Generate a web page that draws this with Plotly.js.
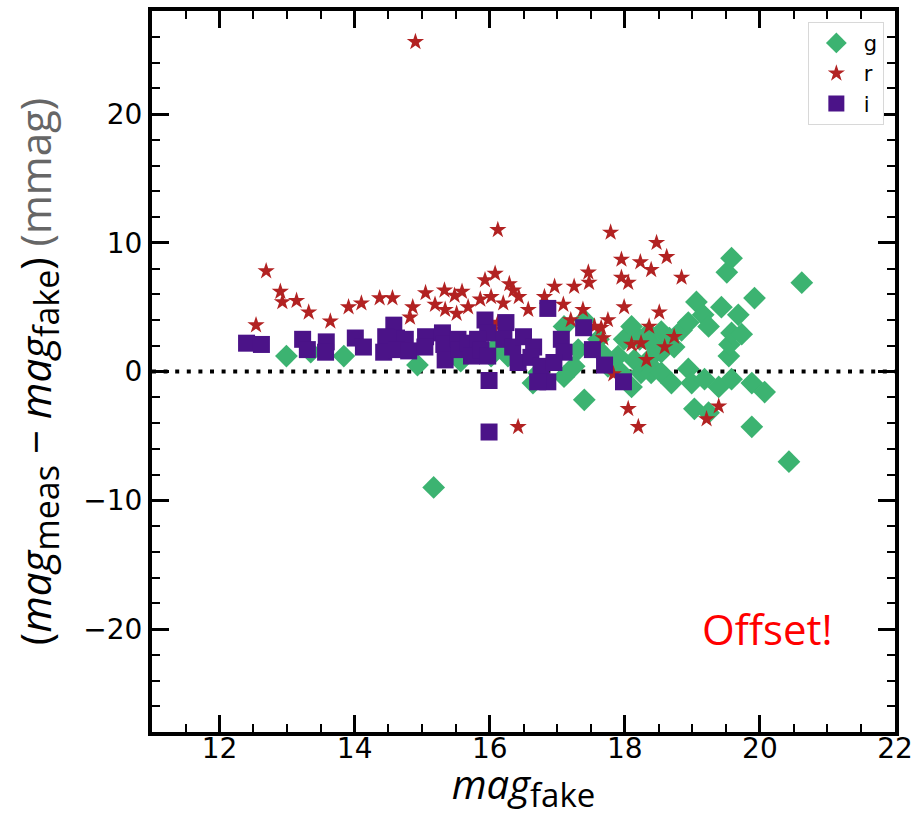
<!DOCTYPE html>
<html>
<head>
<meta charset="utf-8">
<script src="https://cdn.plot.ly/plotly-3.0.1.min.js"></script>
<style>html,body{margin:0;padding:0;background:#fff;}#chart{width:912px;height:817px;}</style>
</head>
<body>
<div id="chart"></div>
<script>
// g band
const gX = [12.99,13.35,13.84,14.93,15.17,15.57,16.02,16.09,16.27,16.64,16.72,17.10,17.40,17.25,17.10,17.40,17.31,17.61,17.65,17.75,17.90,17.95,17.99,18.10,18.22,18.14,18.10,18.24,18.35,18.35,18.39,18.39,18.39,18.54,18.54,18.54,18.66,18.73,18.69,18.84,18.94,18.94,18.99,19.03,19.06,19.16,19.18,19.24,19.24,19.39,19.43,19.51,19.54,19.55,19.58,19.58,19.58,19.68,19.73,19.88,19.88,19.92,20.07,20.43,20.62];
const gY = [1.2,1.5,1.2,0.5,-9.0,0.8,1.2,1.9,1.2,-0.9,-0.1,3.5,4.0,0.4,-0.4,-2.2,1.7,2.5,1.5,0.4,1.2,-0.1,2.5,3.5,2.5,0.9,-1.2,-0.1,3.0,0.9,2.2,0.4,-0.1,3.1,1.5,-0.1,2.6,1.9,-0.9,3.2,3.8,0.2,-0.9,-2.9,5.4,4.4,-0.6,3.5,-3.2,-1.2,5.0,7.7,1.2,2.1,8.8,3.0,-0.6,4.4,2.9,-0.9,-4.3,5.7,-1.6,-7.0,6.9];
// r band
const rX = [12.54,12.69,12.90,12.93,13.14,13.32,13.64,13.91,14.10,14.37,14.56,14.86,14.82,15.05,15.33,15.19,15.34,15.48,15.59,15.51,15.68,15.93,16.08,15.86,16.02,16.20,16.29,16.35,16.43,16.12,16.06,16.12,16.57,16.81,16.96,17.09,17.25,17.38,17.46,17.47,17.20,17.55,17.65,17.68,17.75,17.79,17.95,17.95,18.05,17.99,18.10,18.23,18.24,18.32,18.36,18.39,18.47,18.51,18.59,18.62,18.73,18.84,17.83,18.05,18.20,19.39,19.21,16.42,14.90];
const rY = [3.6,7.8,6.2,5.4,5.5,4.6,3.9,5.0,5.3,5.7,5.7,5.0,4.2,6.1,6.3,5.2,4.8,5.9,6.2,4.5,5.0,7.1,7.6,5.6,5.8,5.3,6.8,6.3,5.8,3.8,3.3,11.0,4.8,5.8,6.6,5.2,6.6,4.8,7.7,6.9,4.0,3.5,3.4,2.6,4.0,10.8,8.7,7.3,6.9,5.0,2.1,8.5,2.2,0.9,3.5,7.9,10.0,4.6,1.9,8.9,2.7,7.3,-0.2,-2.9,-4.3,-2.7,-3.7,-4.3,25.6];
// i band
const iX = [12.40,12.62,13.23,13.30,13.58,13.57,14.01,14.13,14.58,14.46,14.43,14.62,14.75,14.62,14.80,15.05,15.04,15.30,15.32,15.34,15.53,15.55,15.68,15.73,15.93,15.97,15.82,15.87,15.97,15.99,16.24,16.21,16.34,16.42,16.50,16.65,16.61,16.76,16.86,16.71,16.86,17.06,17.10,16.95,17.39,17.52,17.70,17.98,15.99];
const iY = [2.2,2.1,2.5,1.7,2.3,1.5,2.6,1.9,3.6,2.7,1.5,2.6,2.5,1.7,1.6,2.7,1.9,3.0,2.1,0.9,2.5,1.7,2.2,1.2,4.0,3.0,2.5,1.7,1.2,-0.7,3.8,2.5,1.9,0.7,2.7,1.9,1.1,0.4,-0.8,-0.8,4.9,2.5,1.5,0.7,3.4,1.7,0.5,-0.8,-4.7];
// zero reference line
const refX = [11, 22];
const refY = [0, 0];

const traces = [
  {x: refX, y: refY, mode: 'lines', showlegend: false, hoverinfo: 'skip',
   line: {color: '#000', width: 4, dash: '4px,7.6px'}},
  {x: gX, y: gY, mode: 'markers', name: 'g', type: 'scatter',
   marker: {symbol: 'diamond', size: 17.5, color: '#3CB371'}},
  {x: rX, y: rY, mode: 'markers', name: 'r', type: 'scatter',
   marker: {symbol: 'star', size: 13, color: '#B22222'}},
  {x: iX, y: iY, mode: 'markers', name: 'i', type: 'scatter',
   marker: {symbol: 'square', size: 17, color: '#4B1388'}}
];

const tickFont = {family: 'DejaVu Sans', size: 28, color: '#000'};
const SUB = (t, s) => '<sub><span style="font-size:' + s + 'px">' + t + '</span></sub>';
const layout = {
  width: 912, height: 817,
  margin: {l: 152, r: 17, t: 11, b: 85},
  paper_bgcolor: '#fff', plot_bgcolor: '#fff',
  showlegend: true,
  legend: {x: 0.985, y: 0.985, xanchor: 'right', yanchor: 'top',
           bgcolor: '#fff', bordercolor: '#d8d8d8', borderwidth: 1,
           itemwidth: 45,
           font: {family: 'DejaVu Sans', size: 21, color: '#000'}},
  xaxis: {
    range: [11, 22], dtick: 2, tick0: 12,
    ticks: 'inside', ticklen: 17, tickwidth: 3, tickcolor: '#000',
    minor: {dtick: 0.5, ticks: 'inside', ticklen: 8, tickwidth: 2, tickcolor: '#000'},
    showline: true, linecolor: '#000', linewidth: 4, mirror: 'allticks',
    showgrid: false, zeroline: false,
    ticklabeloverflow: 'allow', ticklabelstandoff: -12,
    tickfont: tickFont,
    title: {text: '<i>mag</i>' + SUB('fake', 33), font: {family: 'Open Sans', size: 40, color: '#000'}, standoff: 12}
  },
  yaxis: {
    range: [-28, 28], dtick: 10, tick0: 0,
    ticks: 'inside', ticklen: 17, tickwidth: 3, tickcolor: '#000',
    minor: {dtick: 2, ticks: 'inside', ticklen: 8, tickwidth: 2, tickcolor: '#000'},
    showline: true, linecolor: '#000', linewidth: 4, mirror: 'allticks',
    showgrid: false, zeroline: false,
    tickfont: tickFont,
    title: {text: '(<i>mag</i>' + SUB('meas', 34) + ' − <i>mag</i>' + SUB('fake', 34) + ') <span style="color:#666">(mmag)</span>',
            font: {family: 'Open Sans', size: 42, color: '#000'}, standoff: 20}
  },
  annotations: [{
    text: 'Offset!', xref: 'paper', yref: 'paper', x: 0.828, y: 0.144,
    xanchor: 'center', yanchor: 'middle', showarrow: false,
    font: {family: 'Open Sans', size: 42, color: '#FF0000'}
  }]
};

Plotly.newPlot('chart', traces, layout, {displayModeBar: false, staticPlot: true});
</script>
</body>
</html>
